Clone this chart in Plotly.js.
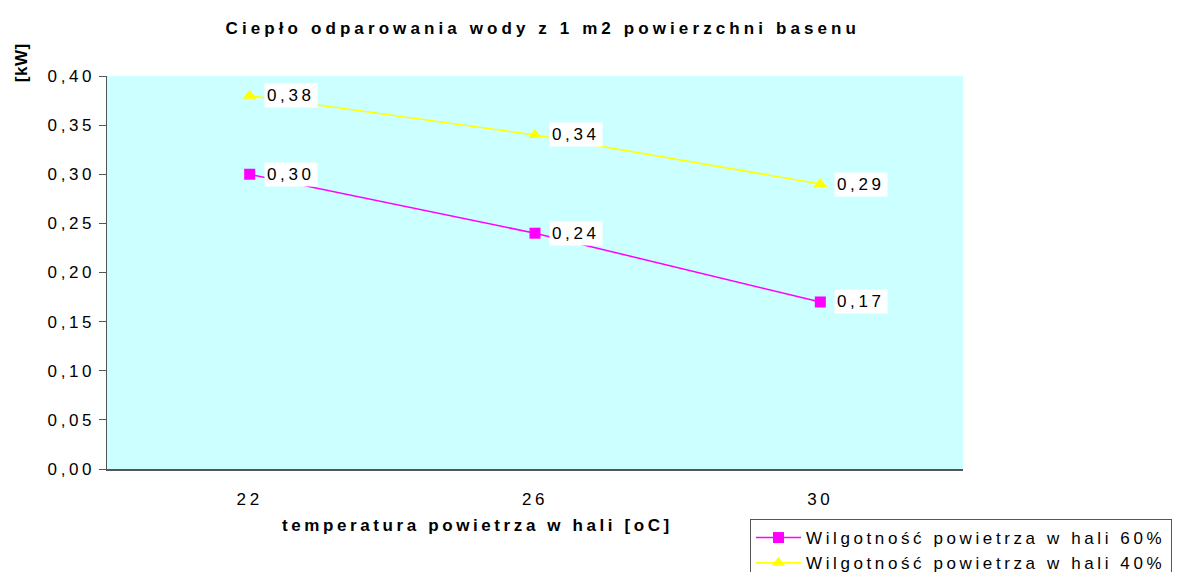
<!DOCTYPE html>
<html>
<head>
<meta charset="utf-8">
<script src="https://cdn.plot.ly/plotly-3.0.1.min.js"></script>
<style>
html,body{margin:0;padding:0;background:#fff;}
#chart{width:1180px;height:572px;}
text{letter-spacing:3.6px;}
.gtitle{letter-spacing:4.1px;}
</style>
</head>
<body>
<div id="chart"></div>
<script>
var categories = ['22', '26', '30'];
var seriesNames = ['Wilgotność powietrza w hali 60%', 'Wilgotność powietrza w hali 40%'];
var humidity60 = [0.30, 0.24, 0.17];
var humidity40 = [0.38, 0.34, 0.29];
var yTicks = [0, 0.05, 0.10, 0.15, 0.20, 0.25, 0.30, 0.35, 0.40];

var FONT = 'Liberation Sans, Arial, sans-serif';

function fmt(v){ return v.toFixed(2).replace('.', ','); }

var traces = [
  {
    x: categories, y: humidity60, name: seriesNames[0], type: 'scatter', mode: 'lines+markers',
    line: {color: '#FF00FF', width: 1.5},
    marker: {symbol: 'square', size: 11, color: '#FF00FF'},
    hoverinfo: 'skip'
  },
  {
    x: categories, y: humidity40, name: seriesNames[1], type: 'scatter', mode: 'lines+markers',
    line: {color: '#FFFF00', width: 1.5},
    marker: {symbol: 'triangle-up', size: 12, color: '#FFFF00'},
    hoverinfo: 'skip'
  }
];

var annotations = [];
[humidity60, humidity40].forEach(function(series){
  series.forEach(function(v, i){
    annotations.push({
      x: i, y: v, xref: 'x', yref: 'y',
      text: fmt(v), showarrow: false, xanchor: 'left', yanchor: 'middle',
      xshift: 14, bgcolor: '#FFFFFF', borderpad: 2,
      font: {family: FONT, size: 17, color: '#000'}
    });
  });
});

annotations.push({
  text: '<b><span style="letter-spacing:0.5px">[kW]</span></b>', xref: 'paper', yref: 'paper', x: -0.1005, y: 1.035,
  textangle: -90, showarrow: false, xanchor: 'center', yanchor: 'middle',
  font: {family: FONT, size: 17, color: '#000'}
});
annotations.push({
  text: '<b>temperatura powietrza w hali [oC]</b>', xref: 'paper', yref: 'paper', x: 0.433, y: -0.145,
  showarrow: false, xanchor: 'center', yanchor: 'middle',
  font: {family: FONT, size: 17, color: '#000'}
});

var layout = {
  width: 1180, height: 572,
  margin: {l: 107, r: 217, t: 76, b: 103, pad: 0, autoexpand: false},
  paper_bgcolor: '#FFFFFF',
  plot_bgcolor: '#CCFFFF',
  separators: ', ',
  showlegend: true,
  title: {
    text: '<b>Ciepło odparowania wody z 1 m2 powierzchni basenu</b>',
    x: 0.460, xanchor: 'center', y: 0.951, yanchor: 'middle',
    font: {family: FONT, size: 17, color: '#000'}
  },
  xaxis: {
    type: 'category', range: [-0.5, 2.5],
    showline: true, linecolor: '#555555', linewidth: 1.5,
    showgrid: false, zeroline: false, ticks: '', ticklabelstandoff: 14,
    tickfont: {family: FONT, size: 17, color: '#000'}
  },
  yaxis: {
    range: [0, 0.4], tickvals: yTicks, tickformat: '.2f',
    showline: true, linecolor: '#555555', linewidth: 1.5,
    showgrid: false, zeroline: false, ticks: 'outside', ticklen: 7, tickcolor: '#555555', tickwidth: 1,
    ticklabelstandoff: 0,
    tickfont: {family: FONT, size: 17, color: '#000'}
  },
  legend: {
    x: (750-107)/856, y: (469-519)/393, xanchor: 'left', yanchor: 'top',
    bgcolor: '#FFFFFF', bordercolor: '#555555', borderwidth: 1,
    font: {family: FONT, size: 17, color: '#000'},
    itemwidth: 45,
    tracegroupgap: 0
  },
  annotations: annotations
};

Plotly.newPlot('chart', traces, layout, {displayModeBar: false, staticPlot: true});
</script>
</body>
</html>
